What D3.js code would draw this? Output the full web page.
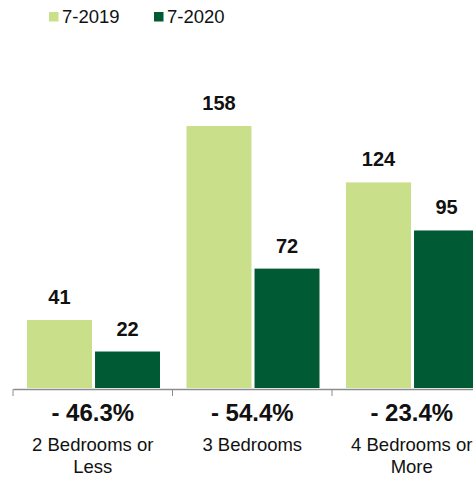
<!DOCTYPE html>
<html>
<head>
<meta charset="utf-8">
<script src="https://cdn.jsdelivr.net/npm/d3@7"></script>
<style>
body { margin: 0; background: #fff; }
svg { display: block; font-family: "Liberation Sans", Arial, sans-serif; }
</style>
</head>
<body>
<svg id="chart"></svg>
<script>
const categories = ["2 Bedrooms or|Less", "3 Bedrooms", "4 Bedrooms or|More"];
const seriesNames = ["7-2019", "7-2020"];
const values2019 = [41, 158, 124];
const values2020 = [22, 72, 95];
const changeLabels = ["- 46.3%", "- 54.4%", "- 23.4%"];
const colors = ["#c9df8a", "#005a34"];

const width = 473, height = 477;
const svg = d3.select("#chart").attr("width", width).attr("height", height);

const baseY = 388;
// plot area is wider than the window: the last group is cut at the right
let x0 = d3.scaleBand().domain(categories).range([13, 491.5]);
let x1 = d3.scaleBand().domain(seriesNames).range([14, 147]).paddingInner(0.045);
let y = d3.scaleLinear().domain([0, 158]).range([baseY, 126]);

const rows = categories.map((c, i) => ({cat: c, vals: [values2019[i], values2020[i]]}));

let g = svg.selectAll(".grp").data(rows).enter().append("g")
  .attr("transform", d => `translate(${x0(d.cat)},0)`);

g.selectAll("rect").data(d => d.vals.map((v, j) => ({s: seriesNames[j], v: v, j: j})))
  .enter().append("rect")
  .attr("x", d => x1(d.s))
  .attr("width", x1.bandwidth())
  .attr("y", d => y(d.v))
  .attr("height", d => baseY - y(d.v))
  .attr("fill", d => colors[d.j]);

g.selectAll(".val").data(d => d.vals.map((v, j) => ({s: seriesNames[j], v: v})))
  .enter().append("text")
  .attr("x", d => x1(d.s) + x1.bandwidth() / 2)
  .attr("y", d => y(d.v) - 16)
  .attr("text-anchor", "middle")
  .style("font-size", "20px").style("font-weight", "bold").style("fill", "#111")
  .text(d => d.v);

// axis line and ticks
let axis = d3.axisBottom(x0).tickSize(0).tickFormat("");
svg.append("g").attr("transform", `translate(0,${baseY + 1})`).call(axis)
  .select(".domain").attr("stroke", "#8c8c8c").attr("stroke-width", 1.3);
svg.append("g").selectAll("line").data(categories).enter().append("line")
  .attr("x1", d => x0(d)).attr("x2", d => x0(d))
  .attr("y1", baseY + 1).attr("y2", baseY + 8)
  .attr("stroke", "#8c8c8c").attr("stroke-width", 1);

// change labels
svg.selectAll(".chg").data(categories).enter().append("text")
  .attr("x", d => x0(d) + x0.bandwidth() / 2)
  .attr("y", 421)
  .attr("text-anchor", "middle")
  .style("font-size", "24px").style("font-weight", "bold").style("fill", "#111")
  .text((d, i) => changeLabels[i]);

// category labels
let cl = svg.selectAll(".cat").data(categories).enter().append("text")
  .attr("text-anchor", "middle")
  .style("font-size", "18.5px").style("fill", "#111");
cl.each(function(d) {
  let t = d3.select(this);
  d.split("|").forEach((line, k) => {
    t.append("tspan").attr("x", x0(d) + x0.bandwidth() / 2)
      .attr("y", 451 + k * 22).text(line);
  });
});

// legend
let lg = svg.append("g").selectAll("g").data(seriesNames).enter().append("g")
  .attr("transform", (d, i) => `translate(${49 + i * 105},0)`);
lg.append("rect").attr("x", 0).attr("y", 12).attr("width", 9.5).attr("height", 9.5)
  .attr("fill", (d, i) => colors[i]);
lg.append("text").attr("x", 13).attr("y", 23)
  .style("font-size", "18.5px").style("fill", "#111").text(d => d);
</script>
</body>
</html>
